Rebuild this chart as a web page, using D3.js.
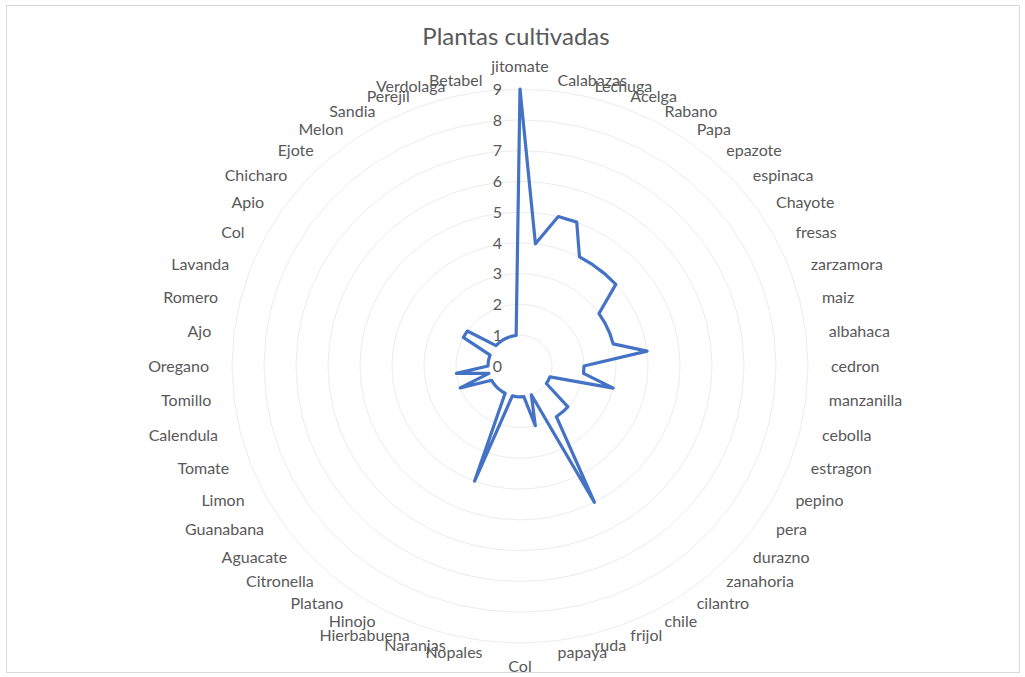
<!DOCTYPE html>
<html>
<head>
<meta charset="utf-8">
<script src="https://cdn.jsdelivr.net/npm/d3@7"></script>
<style>
  html, body { margin: 0; padding: 0; background: #ffffff; }
  svg { display: block; }
  text { font-family: Lato, "Liberation Sans", sans-serif; fill: #595959; }
</style>
</head>
<body>
<svg id="chart" width="1025" height="677"></svg>
<script>
const title = "Plantas cultivadas";
const categories = ["jitomate","Calabazas","Lechuga","Acelga","Rabano","Papa","epazote","espinaca","Chayote","fresas","zarzamora","maiz","albahaca","cedron","manzanilla","cebolla","estragon","pepino","pera","durazno","zanahoria","cilantro","chile","frijol","ruda","papaya","Col","Nopales","Naranjas","Hierbabuena","Hinojo","Platano","Citronella","Aguacate","Guanabana","Limon","Tomate","Calendula","Tomillo","Oregano","Ajo","Romero","Lavanda","Col","Apio","Chicharo","Ejote","Melon","Sandia","Perejil","Verdolaga","Betabel"];
const values = [9,4,5,5,4,4,4,4,3,3,3,3,4,2,2,3,1,1,1,2,2,2,5,1,2,1,1,1,1,4,1,1,1,1,1,1,2,1,2,1,1,1,1,2,2,1,1,1,1,1,1,1];
const tickValues = [0,1,2,3,4,5,6,7,8,9];

const cx = 520, cy = 366;
const svg = d3.select("#chart");

// chart border
svg.append("rect").attr("x", 6.5).attr("y", 5.5).attr("width", 1013).attr("height", 667)
  .attr("fill", "#ffffff").attr("stroke", "#d9d9d9").attr("stroke-width", 1);

// title
svg.append("text").attr("x", 516).attr("y", 45).attr("text-anchor", "middle")
  .style("font-size", "24px").text(title);

const n = categories.length;
const angle = d3.scaleLinear().domain([0, n]).range([0, 2 * Math.PI]);
// the reference picture is slightly wider than tall
const rX = d3.scaleLinear().domain([0, 9]).range([0, 288]);
const rY = d3.scaleLinear().domain([0, 9]).range([0, 277]);

const g = svg.append("g").attr("transform", `translate(${cx},${cy})`);

const px = (i, v) => rX(v) * Math.sin(angle(i));
const py = (i, v) => -rY(v) * Math.cos(angle(i));

// gridline polygons
const idx = d3.range(n);
tickValues.filter(t => t > 0).forEach(t => {
  const ring = d3.line().x(i => px(i, t)).y(i => py(i, t)).curve(d3.curveLinearClosed);
  g.append("path").attr("d", ring(idx))
    .attr("fill", "none").attr("stroke", "#ececec").attr("stroke-width", 1);
});

// series
const seriesLine = d3.line()
  .x((d, i) => px(i, d))
  .y((d, i) => py(i, d))
  .curve(d3.curveLinearClosed);
g.append("path").attr("d", seriesLine(values))
  .attr("fill", "none").attr("stroke", "#4472c4").attr("stroke-width", 3.2)
  .attr("stroke-linejoin", "round");

// tick labels
g.selectAll("text.tick").data(tickValues).enter().append("text")
  .attr("class", "tick")
  .attr("x", -18).attr("y", d => -rY(d))
  .attr("dy", "0.36em").attr("text-anchor", "end")
  .style("font-size", "16px").text(d => d);

// category labels
g.selectAll("text.cat").data(categories).enter().append("text")
  .attr("class", "cat")
  .each(function(d, i) {
    const a = angle(i), s = Math.sin(a), c = Math.cos(a);
    const el = d3.select(this);
    if (Math.abs(s) < 1e-6) {
      el.attr("x", 0).attr("y", -300 * c).attr("text-anchor", "middle");
    } else {
      el.attr("x", 311 * s).attr("y", -288 * c).attr("text-anchor", s > 0 ? "start" : "end");
    }
  })
  .attr("dy", "0.36em")
  .style("font-size", "16px")
  .text(d => d);
</script>
</body>
</html>
